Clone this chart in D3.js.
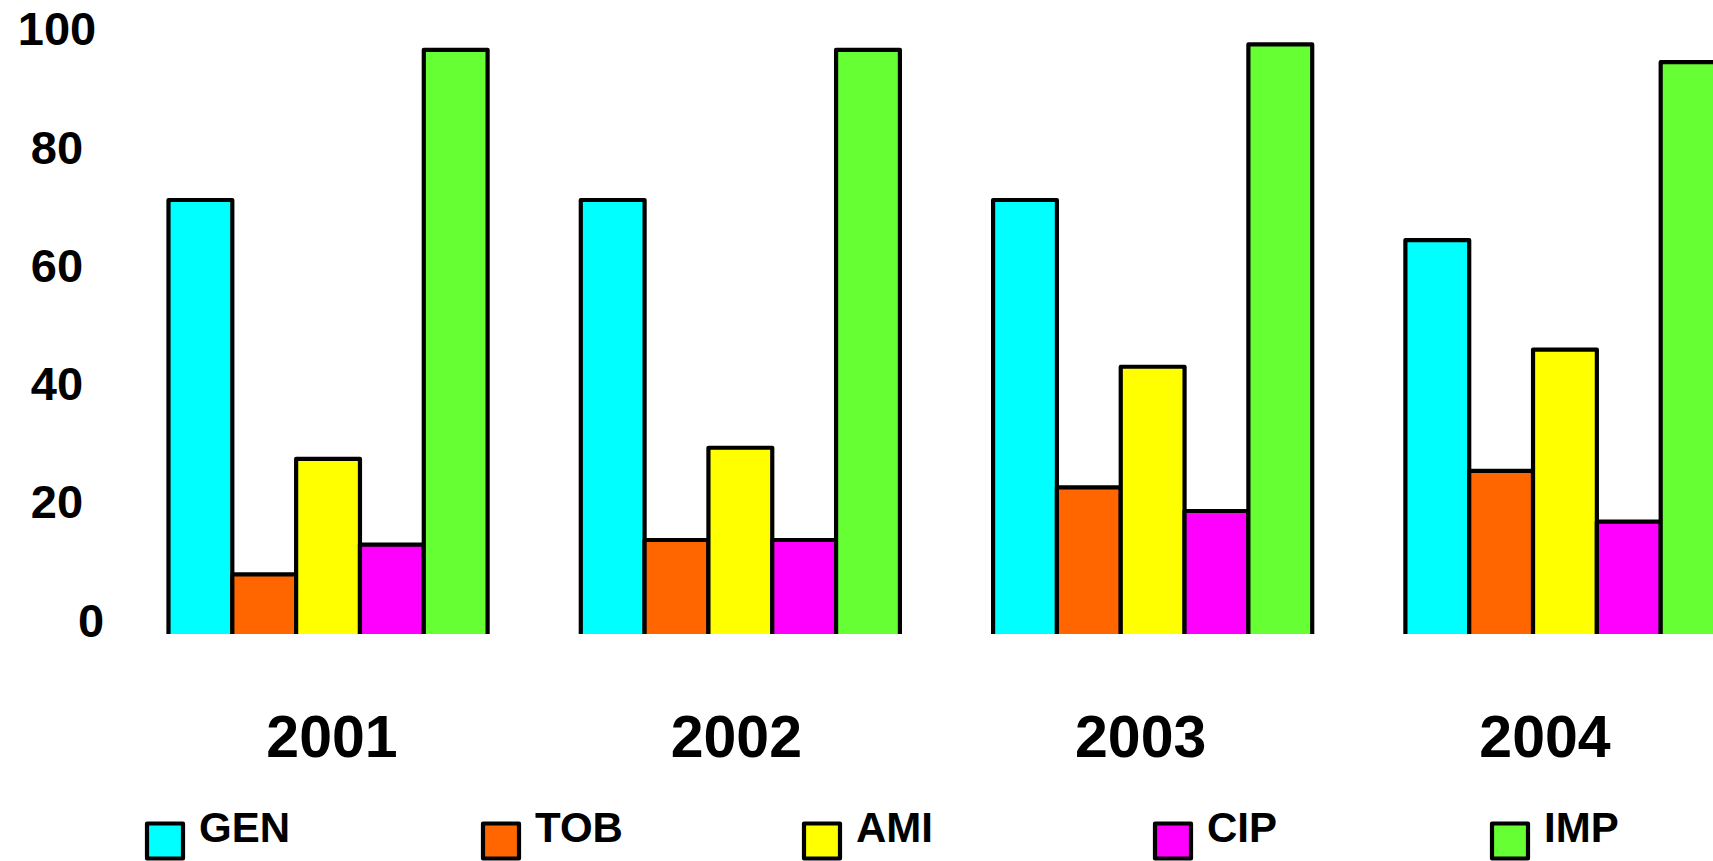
<!DOCTYPE html>
<html>
<head>
<meta charset="utf-8">
<script src="https://cdn.jsdelivr.net/npm/d3@7"></script>
<style>
  html, body { margin: 0; padding: 0; background: #ffffff; overflow: hidden; }
  svg { display: block; }
  text { font-family: "Liberation Sans", Arial, Helvetica, sans-serif; font-weight: bold; fill: #000; }
</style>
</head>
<body>
<svg id="chart" width="1713" height="861"></svg>
<script>
// Years on the category axis
const years = ["2001", "2002", "2003", "2004"];

// Antibiotic series (percent)
const seriesNames = ["GEN", "TOB", "AMI", "CIP", "IMP"];
const genValues = [71.0, 71.0, 71.0, 64.2];
const tobValues = [7.7, 13.5, 22.4, 25.2];
const amiValues = [27.2, 29.1, 42.8, 45.7];
const cipValues = [12.7, 13.5, 18.4, 16.6];
const impValues = [96.4, 96.4, 97.3, 94.3];

// Value axis tick labels
const yTicks = [0, 20, 40, 60, 80, 100];

// Fill colours per series
const seriesColors = ["#00ffff", "#ff6600", "#ffff00", "#ff00ff", "#66ff33"];

const valuesBySeries = [genValues, tobValues, amiValues, cipValues, impValues];

const W = 1713, H = 861;
const svg = d3.select("#chart");

// Value scale: the plot floor sits a little below zero
const yFloor = -2.4;
const y = d3.scaleLinear().domain([yFloor, 100]).range([634, 28.5]);

// Groups of bars per year
const x0 = d3.scaleBand()
  .domain(years)
  .range([121.9, 121.9 + 4 * 412.3])
  .paddingInner(0.226)
  .paddingOuter(0.113);

const x1 = d3.scaleBand()
  .domain(seriesNames)
  .range([0, x0.bandwidth()])
  .padding(0);

// Year labels along the bottom
const xLabel = d3.scalePoint().domain(years).range([332, 1545]);

const color = d3.scaleOrdinal().domain(seriesNames).range(seriesColors);

// Clip so bars are cut flat at the plot floor
svg.append("defs").append("clipPath").attr("id", "plotClip")
  .append("rect").attr("x", 0).attr("y", 0).attr("width", W).attr("height", y(yFloor));

const rows = [];
years.forEach((yr, i) => {
  seriesNames.forEach((s, j) => {
    rows.push({ year: yr, series: s, value: valuesBySeries[j][i] });
  });
});

svg.append("g")
  .attr("clip-path", "url(#plotClip)")
  .selectAll("rect")
  .data(rows)
  .join("rect")
  .attr("x", d => x0(d.year) + x1(d.series))
  .attr("y", d => y(d.value))
  .attr("width", x1.bandwidth())
  .attr("height", d => y(yFloor) - y(d.value) + 10)
  .attr("fill", d => color(d.series))
  .attr("stroke", "#000")
  .attr("stroke-width", 4.2)
  .attr("stroke-linejoin", "round");

// Value axis labels
const yFont = 47;
svg.append("g")
  .selectAll("text")
  .data(yTicks)
  .join("text")
  .attr("x", d => d === 0 ? 91 : 57)
  .attr("y", d => y(d) + 0.358 * yFont)
  .attr("text-anchor", "middle")
  .style("font-size", yFont + "px")
  .text(d => d);

// Category labels
const xFont = 59;
svg.append("g")
  .selectAll("text")
  .data(years)
  .join("text")
  .attr("x", d => xLabel(d))
  .attr("y", 757)
  .attr("text-anchor", "middle")
  .style("font-size", xFont + "px")
  .text(d => d);

// Legend
const legendX = [145, 481, 802, 1153, 1490];
const legend = svg.append("g")
  .selectAll("g")
  .data(seriesNames)
  .join("g")
  .attr("transform", (d, i) => `translate(${legendX[i]},0)`);

legend.append("rect")
  .attr("x", 2)
  .attr("y", 823.5)
  .attr("width", 36)
  .attr("height", 35)
  .attr("fill", d => color(d))
  .attr("stroke", "#000")
  .attr("stroke-width", 4.2)
  .attr("stroke-linejoin", "round");

legend.append("text")
  .attr("x", 54)
  .attr("y", 842)
  .style("font-size", "42px")
  .text(d => d);
</script>
</body>
</html>
